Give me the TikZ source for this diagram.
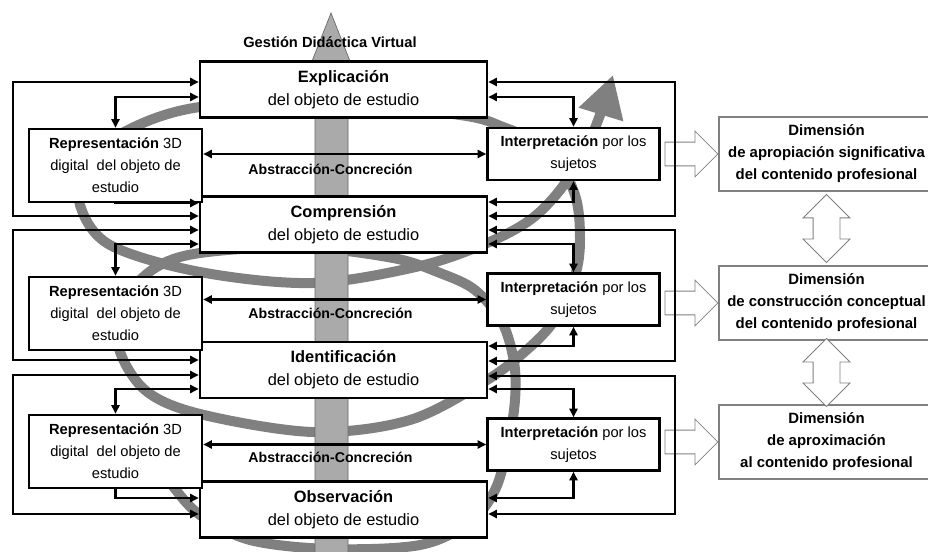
\documentclass[tikz,border=0pt]{standalone}
\usepackage{fontspec}
\setmainfont{Liberation Sans}
\usetikzlibrary{arrows.meta,shapes.arrows,calc}
\definecolor{spiralgray}{RGB}{128,128,128}
\definecolor{axisgray}{RGB}{170,170,170}

\begin{document}
\begin{tikzpicture}[x=0.75pt,y=-0.75pt,
  >={Triangle[length=6.5pt,width=6pt]},
  box/.style={
    draw,
    line width=1.8pt,
    fill=white,
    minimum width=215.25pt,
    minimum height=42pt,
    inner sep=0pt,
    align=center,
    font=\fontsize{12.3}{17.5}\selectfont
  },
  sidebox/.style={
    draw,
    line width=1.8pt,
    fill=white,
    inner sep=0pt,
    align=center,
    font=\fontsize{11}{16.5}\selectfont
  },
  dimbox/.style={
    draw=gray,
    line width=0.8pt,
    fill=white,
    minimum width=161.25pt,
    minimum height=55.5pt,
    inner sep=0pt,
    align=center,
    font=\bfseries\fontsize{11.2}{16.5}\selectfont
  },
  abslabel/.style={
    font=\bfseries\fontsize{10.6}{13}\selectfont
  },
  link/.style={
    <->,
    line width=2.2pt
  },
  flow/.style={
    ->,
    line width=2.2pt
  },
  hollow/.style={
    single arrow,
    draw=gray,
    line width=0.6pt,
    fill=white,
    minimum height=39.75pt,
    inner xsep=0pt,
    inner ysep=8.6pt,
    single arrow head extend=8.25pt
  },
  dblhollow/.style={
    double arrow,
    draw=gray,
    line width=0.6pt,
    fill=white,
    minimum height=51pt,
    inner xsep=0pt,
    inner ysep=9.75pt,
    double arrow head extend=7.5pt
  },
  spiral/.style={
    draw=spiralgray,
    line width=7.5pt,
    -{Triangle[length=31pt,width=33pt]}
  }
  ]
  \useasboundingbox (0,0) rectangle (928,552);

  % gray spiral
  \draw[spiral] plot[smooth, tension=0.55] coordinates {
    (150,452) (172,485) (200,515) (250,540) (330,549) (420,545) (470,522)
    (495,490) (508,445) (515,400) (514,362) (502,322) (475,290) (440,273)
    (393,258) (300,247) (200,253) (155,268) (125,300) (118,345) (145,390)
    (200,414) (313,432) (410,420) (487,380) (530,347) (556,318) (575,276)
    (580,240) (575,195) (550,150) (503,127) (460,115) (330,102) (200,107)
    (128,130) (85,165) (80,205) (110,245) (200,272) (313,283) (420,266)
    (487,243) (530,220) (560,190) (585,150) (600,115) (613,75)};

  % vertical axis
  \filldraw[fill=axisgray, draw=gray!80!black, line width=0.5pt]
    (315,560) -- (315,84) -- (303,84) -- (331,13) -- (359,84) -- (348,84) -- (348,560) -- cycle;
  \node[font=\bfseries\fontsize{11}{13}\selectfont] (title) at (330,42) {Gestión Didáctica Virtual};

  % main stages
  \node[box] (expl) at (343.5,89.5) {\textbf{Explicación}\\del objeto de estudio};
  \node[box] (compr) at (343.5,224.5) {\textbf{Comprensión}\\del objeto de estudio};
  \node[box] (ident) at (343.5,370) {\textbf{Identificación}\\del objeto de estudio};
  \node[box] (obs) at (343.5,509.5) {\textbf{Observación}\\del objeto de estudio};

  % side boxes
  \node[sidebox, minimum width=129.75pt, minimum height=54.75pt] (rep1) at (115.5,165.5) {\textbf{Representación} 3D\\digital~ del objeto de\\estudio};
  \node[sidebox, minimum width=129.75pt, minimum height=54.75pt] (rep2) at (115.5,313.5) {\textbf{Representación} 3D\\digital~ del objeto de\\estudio};
  \node[sidebox, minimum width=129.75pt, minimum height=54.75pt] (rep3) at (115.5,451.5) {\textbf{Representación} 3D\\digital~ del objeto de\\estudio};
  \node[sidebox, minimum width=129pt, minimum height=39pt] (interp1) at (573.5,154) {\textbf{Interpretación} por los\\sujetos};
  \node[sidebox, minimum width=129pt, minimum height=39pt] (interp2) at (573.5,299.5) {\textbf{Interpretación} por los\\sujetos};
  \node[sidebox, minimum width=129pt, minimum height=39pt] (interp3) at (573.5,444.5) {\textbf{Interpretación} por los\\sujetos};

  \node[abslabel] (abs1) at (330.5,169) {Abstracción-Concreción};
  \node[abslabel] (abs2) at (330.5,313) {Abstracción-Concreción};
  \node[abslabel] (abs3) at (330.5,457) {Abstracción-Concreción};

  % dimensions
  \node[dimbox] (dim1) at (826.5,154) {Dimensión\\de apropiación significativa\\del contenido profesional};
  \node[dimbox] (dim2) at (826.5,303) {Dimensión\\de construcción conceptual\\del contenido profesional};
  \node[dimbox] (dim3) at (826.5,442) {Dimensión\\de aproximación\\al contenido profesional};

  \node[hollow, anchor=tip] (ha1) at (dim1.west) {};
  \node[hollow, anchor=tip] (ha2) at (dim2.west) {};
  \node[hollow, anchor=tip] (ha3) at (dim3.west) {};
  \node[dblhollow, rotate=90] (da1) at ($(dim1.south)!0.5!(dim2.north)$) {};
  \node[dblhollow, rotate=90] (da2) at ($(dim2.south)!0.5!(dim3.north)$) {};

  % level 1
  \draw[link] (expl.west |- 0,82) -- (13,82) -- (13,216) -- (compr.west |- 0,216);
  \draw[link] (expl.west |- 0,97) -| (rep1.north);
  \draw[flow] (rep1.south) |- (compr.west |- 0,203);
  \draw[link] (rep1.east |- interp1.west) -- (interp1.west);
  \draw[link] (expl.east |- 0,97) -| (interp1.north);
  \draw[link] (interp1.south) |- (compr.east |- 0,202);
  \draw[link] (expl.east |- 0,82) -- (675,82) -- (675,216) -- (compr.east |- 0,216);

  % level 2
  \draw[link] (compr.west |- 0,230) -- (13,230) -- (13,360) -- (ident.west |- 0,360);
  \draw[link] (compr.west |- 0,244) -| (rep2.north);
  \draw[link] (rep2.east |- interp2.west) -- (interp2.west);
  \draw[link] (compr.east |- 0,244) -| (interp2.north);
  \draw[link] (interp2.south) |- (ident.east |- 0,346);
  \draw[link] (compr.east |- 0,230) -- (675,230) -- (675,361) -- (ident.east |- 0,361);

  % level 3
  \draw[link] (ident.west |- 0,375) -- (13,375) -- (13,514) -- (obs.west |- 0,514);
  \draw[link] (ident.west |- 0,389) -| (rep3.north);
  \draw[flow] (rep3.south) |- (obs.west |- 0,498);
  \draw[link] (rep3.east |- interp3.west) -- (interp3.west);
  \draw[link] (ident.east |- 0,389) -| (interp3.north);
  \draw[link] (interp3.south) |- (obs.east |- 0,498);
  \draw[link] (ident.east |- 0,376) -- (675,376) -- (675,514) -- (obs.east |- 0,514);
\end{tikzpicture}
\end{document}
